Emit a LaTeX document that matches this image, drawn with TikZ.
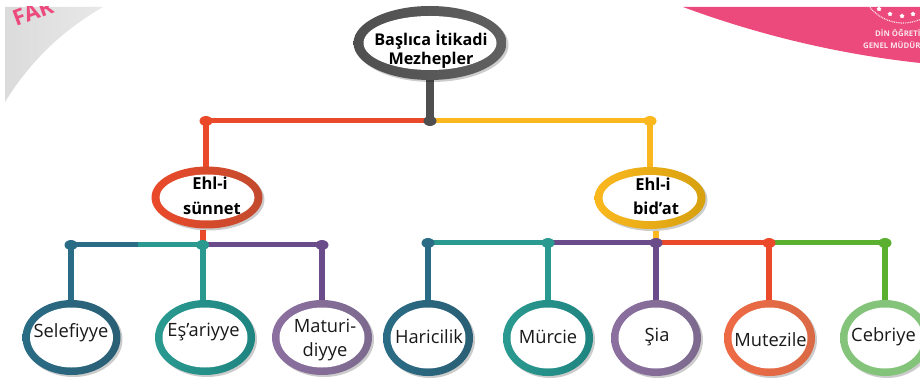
\documentclass[tikz,border=0pt]{standalone}
\usepackage{fontspec}
\setmainfont{Open Sans}
\usetikzlibrary{shapes.geometric,shadows,backgrounds}
\definecolor{cgray}{HTML}{4F4F4F}
\definecolor{cred}{HTML}{EA4A2A}
\definecolor{credd}{HTML}{C24A2E}
\definecolor{cyel}{HTML}{FBB81E}
\definecolor{cyeld}{HTML}{D6A00F}
\definecolor{cdteal}{HTML}{2A6C85}
\definecolor{cdteald}{HTML}{2A5F75}
\definecolor{cteal}{HTML}{2A9A90}
\definecolor{cteald}{HTML}{1F8480}
\definecolor{cpur}{HTML}{6A4C8A}
\definecolor{cpurl}{HTML}{8B6FA0}
\definecolor{cpurd}{HTML}{7D6A8E}
\definecolor{cora}{HTML}{EE6A45}
\definecolor{corad}{HTML}{D96A45}
\definecolor{cgrn}{HTML}{5BB030}
\definecolor{cgrnl}{HTML}{83C47A}
\definecolor{cpink}{HTML}{EC4A7C}
\tikzset{
  x=1pt,y=-1pt,
  ringnode/.style={ellipse,inner sep=0pt,outer sep=0pt,drop shadow={shadow xshift=2pt,shadow yshift=-2pt,opacity=.2,fill=black}},
  innernode/.style={ellipse,fill=white,inner sep=0pt,outer sep=0pt},
  lbl/.style={inner sep=0pt,align=center,font=\fontsize{18.3}{27}\selectfont,text=black!90},
  blbl/.style={inner sep=0pt,align=center,font=\fontsize{16.5}{24}\selectfont\bfseries,text=black},
  jdot/.style={ellipse,inner sep=0pt,outer sep=0pt,minimum width=13pt,minimum height=10pt},
  barline/.style={line width=5pt},
  stemline/.style={line width=6pt},
  starnode/.style={star,fill=white,inner sep=0pt,minimum size=5pt},
  emblemtext/.style={text=white!85!cpink,font=\fontsize{7.8}{11}\selectfont\bfseries,inner sep=0pt,anchor=west},
}
% name, x, y, outer w, outer h, ring thickness, colour left, colour right
\newcommand{\ringat}[8]{%
  \node[ringnode,minimum width=#4pt,minimum height=#5pt,left color=#7,middle color=#7,right color=#8] (#1) at (#2,#3) {};
  \pgfmathsetmacro{\iw}{#4-2*#6}\pgfmathsetmacro{\ih}{#5-2*#6}
  \node[innernode,minimum width=\iw pt,minimum height=\ih pt] (#1in) at (#2,#3) {};
}
\begin{document}
\begin{tikzpicture}
\useasboundingbox (0,0) rectangle (920,379);
\begin{scope}[on background layer]
\fill[white] (0,0) rectangle (920,379);
\end{scope}
% top-left corner
\begin{scope}
\clip (5,7) rectangle (200,120);
\shade[left color=black!14,right color=black!9] (5,7) -- (103,7) .. controls (60,32) and (30,62) .. (5,102) -- cycle;
\node[rotate=20,text=cpink,font=\fontsize{22}{22}\selectfont\bfseries,anchor=base west,inner sep=0pt] (far) at (16,27) {FAR};
\end{scope}
% top-right corner
\begin{scope}
\clip (600,7) rectangle (920,120);
\fill[cpink] (683,7) .. controls (740,28) and (820,52) .. (920,63) -- (920,7) -- cycle;
\draw[white!85!cpink,line width=1.2pt,dash pattern=on 0.9pt off 0.9pt] (903,-20) circle[radius=43];
\node[starnode] (s1) at (879,9) {};
\node[starnode] (s2) at (890,14) {};
\node[starnode] (s3) at (902,16) {};
\node[starnode] (s4) at (913,14) {};
\node[emblemtext] (d1) at (875,33) {DİN ÖĞRETİ};
\node[emblemtext] (d2) at (863,44.5) {GENEL MÜDÜR};
\end{scope}
% ovals
\ringat{root}{430}{43}{153}{74}{10}{cgray}{cgray!90}
\ringat{sun}{207}{197.5}{111}{62}{8}{cred}{credd}
\ringat{bid}{650}{198}{111}{62}{8}{cyel}{cyeld}
\ringat{sel}{71.5}{337.5}{98}{75}{7.5}{cdteal}{cdteald}
\ringat{esh}{205}{337.5}{100}{75}{7.5}{cteal}{cteald}
\ringat{mat}{322}{337.5}{100}{75}{7.5}{cpurl}{cpurd}
\ringat{har}{428}{338}{90}{76}{7.5}{cdteal}{cdteald}
\ringat{mur}{548}{338}{90}{76}{7.5}{cteal}{cteald}
\ringat{shi}{656}{338}{90}{76}{7.5}{cpurl}{cpurd}
\ringat{mut}{769.5}{338}{91}{76}{7.5}{cora}{corad}
\ringat{ceb}{885}{338}{90}{76}{7.5}{cgrnl}{cgrnl}
% labels
\node[blbl,font=\fontsize{16.2}{24}\selectfont\bfseries] (t0a) at (431,40) {Başlıca İtikadi};
\node[blbl,font=\fontsize{16.2}{24}\selectfont\bfseries] (t0b) at (431,60) {Mezhepler};
\node[blbl] (t1a) at (210,183) {Ehl-i};
\node[blbl] (t1b) at (212,208) {sünnet};
\node[blbl] (t2a) at (653,184) {Ehl-i};
\node[blbl] (t2b) at (656,208) {bid’at};
\node[lbl] (t3) at (71,333) {Selefiyye};
\node[lbl] (t4) at (203.5,332) {Eş’ariyye};
\node[lbl] (t5a) at (325,326) {Maturi-};
\node[lbl] (t5b) at (325,352) {diyye};
\node[lbl] (t6) at (429,337) {Haricilik};
\node[lbl] (t7) at (548,337) {Mürcie};
\node[lbl] (t8) at (657,337) {Şia};
\node[lbl] (t9) at (770.5,340) {Mutezile};
\node[lbl] (t10) at (883.5,337) {Cebriye};
% junctions
\node[jdot,fill=cgray] (j0) at (430,121) {};
\node[jdot,fill=cred] (j1) at (206,121) {};
\node[jdot,fill=cyel] (j2) at (650,121) {};
\node[jdot,fill=cdteal] (k1) at (71,245) {};
\node[jdot,fill=cteal] (k2) at (202.5,245) {};
\node[jdot,fill=cpur] (k3) at (322,245) {};
\node[jdot,fill=cdteal] (m1) at (428,243) {};
\node[jdot,fill=cteal] (m2) at (548,243) {};
\node[jdot,fill=cpur] (m3) at (656,243) {};
\node[jdot,fill=cred] (m4) at (769,243) {};
\node[jdot,fill=cgrn] (m5) at (885,243) {};
\coordinate (kmid) at (138,245);
% connectors, behind the ovals and the junction dots
\begin{scope}[on background layer]
\draw[cgray,line width=7.5pt] (root.center) -- (j0.center);
\draw[cred,barline] (j0.center) -- (j1.center);
\draw[cyel,barline] (j0.center) -- (j2.center);
\draw[cred,stemline] (j1.center) -- (j1.center |- sun.center);
\draw[cyel,stemline] (j2.center) -- (j2.center |- bid.center);
\draw[cred,stemline] (k2.center |- sun.south) ++(0,2) -- (k2.center);
\draw[cyel,stemline] (m3.center |- bid.south) ++(0,2) -- (m3.center);
\draw[cdteal,barline] (k1.center) -- (kmid);
\draw[cteal,barline] (kmid) -- (k2.center);
\draw[cpur,barline] (k2.center) -- (k3.center);
\draw[cteal,barline] (m1.center) -- (m2.center);
\draw[cpur,barline] (m2.center) -- (m3.center);
\draw[cred,barline] (m3.center) -- (m4.center);
\draw[cgrn,barline] (m4.center) -- (m5.center);
\draw[cdteal,stemline] (k1.center) -- (k1.center |- sel.center);
\draw[cteal,stemline] (k2.center) -- (k2.center |- esh.center);
\draw[cpur,stemline] (k3.center) -- (k3.center |- mat.center);
\draw[cdteal,stemline] (m1.center) -- (m1.center |- har.center);
\draw[cteal,stemline] (m2.center) -- (m2.center |- mur.center);
\draw[cpur,stemline] (m3.center) -- (m3.center |- shi.center);
\draw[cred,stemline] (m4.center) -- (m4.center |- mut.center);
\draw[cgrn,stemline] (m5.center) -- (m5.center |- ceb.center);
\end{scope}
\end{tikzpicture}
\end{document}
